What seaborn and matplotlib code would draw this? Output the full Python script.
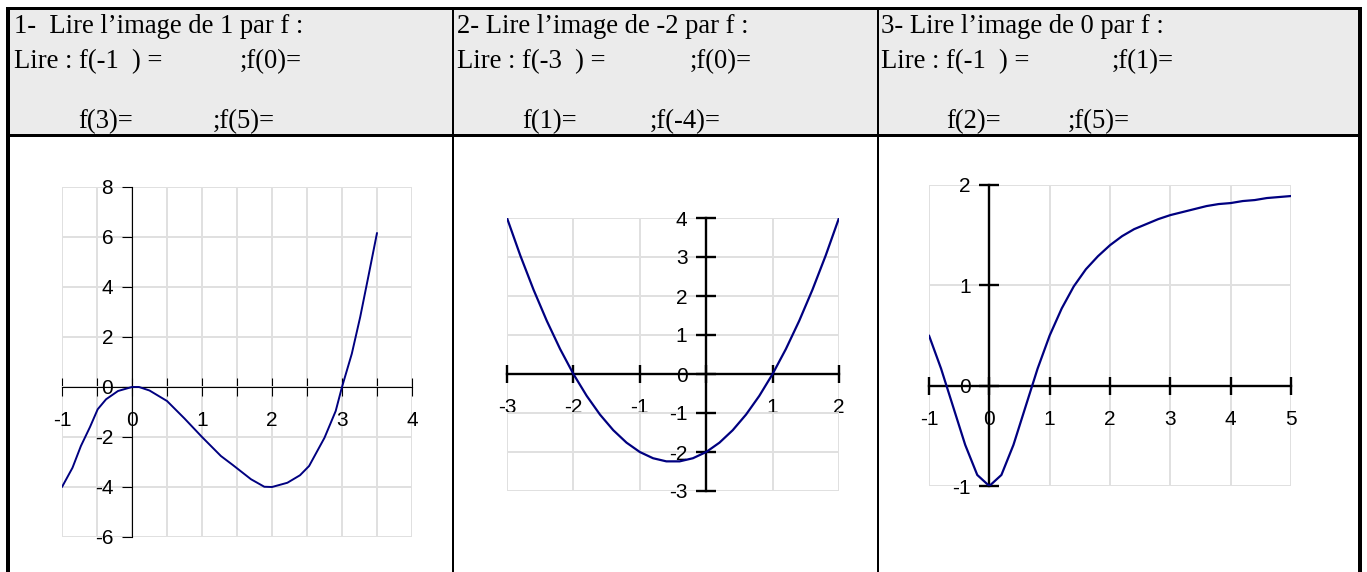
import matplotlib
matplotlib.use("Agg")
import matplotlib.pyplot as plt
import seaborn as sns
import pandas as pd
from matplotlib.patches import Rectangle
from matplotlib.ticker import MultipleLocator, FuncFormatter, NullFormatter

# ---------------------------------------------------------------- data
titles = ["1-  Lire l’image de 1 par f :",
          "2- Lire l’image de -2 par f :",
          "3- Lire l’image de 0 par f :"]
line2_left = ["Lire : f(-1  ) =", "Lire : f(-3  ) =", "Lire : f(-1  ) ="]
line2_right = [";f(0)=", ";f(0)=", ";f(1)="]
line3_left = ["f(3)=", "f(1)=", "f(2)="]
line3_right = [";f(5)=", ";f(-4)=", ";f(5)="]

# exercise 1 : cubic-looking curve
x1 = [-1.0, -0.85, -0.73, -0.6, -0.49, -0.37, -0.2, 0.0, 0.1, 0.25, 0.5, 0.75,
      1.0, 1.27, 1.44, 1.7, 1.89, 2.0, 2.22, 2.4, 2.53, 2.75, 2.91, 3.0,
      3.14, 3.26, 3.38, 3.5]
y1 = [-4.0, -3.23, -2.36, -1.6, -0.89, -0.49, -0.16, 0.0, 0.0, -0.14, -0.56, -1.26,
      -2.0, -2.76, -3.12, -3.69, -3.99, -4.0, -3.83, -3.53, -3.16, -2.03, -0.96, 0.0,
      1.33, 2.8, 4.47, 6.16]

# exercise 2 : parabola
x2 = [-3.0, -2.8, -2.6, -2.4, -2.2, -2.0, -1.8, -1.6, -1.4, -1.2, -1.0, -0.8, -0.6,
      -0.4, -0.2, 0.0, 0.2, 0.4, 0.6, 0.8, 1.0, 1.2, 1.4, 1.6, 1.8, 2.0]
y2 = [4.0, 3.04, 2.16, 1.36, 0.64, 0.0, -0.56, -1.04, -1.44, -1.76, -2.0, -2.16, -2.24,
      -2.24, -2.16, -2.0, -1.76, -1.44, -1.04, -0.56, 0.0, 0.64, 1.36, 2.16, 3.04, 4.0]

# exercise 3 : well-shaped curve with horizontal asymptote
x3 = [-1.0, -0.8, -0.6, -0.4, -0.2, 0.0, 0.2, 0.4, 0.6, 0.8, 1.0, 1.2, 1.4, 1.6, 1.8,
      2.0, 2.2, 2.4, 2.6, 2.8, 3.0, 3.2, 3.4, 3.6, 3.8, 4.0, 4.2, 4.4, 4.6, 4.8, 5.0]
y3 = [0.5, 0.17, -0.21, -0.59, -0.89, -1.0, -0.89, -0.59, -0.21, 0.17, 0.5, 0.77,
      0.99, 1.16, 1.29, 1.4, 1.49, 1.56, 1.61, 1.66, 1.7, 1.73, 1.76, 1.79, 1.81,
      1.82, 1.84, 1.85, 1.87, 1.88, 1.89]

# ---------------------------------------------------------------- style
sns.set_theme(style="white")
plt.rcParams["font.family"] = ["Liberation Sans", "DejaVu Sans"]
plt.rcParams["axes.unicode_minus"] = False

W, H, DPI = 1367, 572, 100
fig = plt.figure(figsize=(W / DPI, H / DPI), dpi=DPI)
fig.patch.set_facecolor("white")

# full-figure canvas in pixel coordinates for the table frame and text
bg = fig.add_axes([0, 0, 1, 1], zorder=0)
bg.set_xlim(0, W)
bg.set_ylim(H, 0)
bg.axis("off")

HEADER_GRAY = "#ebebeb"
bg.add_patch(Rectangle((10, 9), 1348, 125, color=HEADER_GRAY, lw=0))
for (x, y, w, h) in [(6, 7, 1356, 2.5),      # top border
                     (6, 7, 4, 565),         # left border
                     (1358, 7, 4, 565),      # right border
                     (6, 134, 1356, 2.5),    # header separator
                     (452, 7, 2.2, 565),     # column divider
                     (877, 7, 2.2, 565)]:    # column divider
    bg.add_patch(Rectangle((x, y), w, h, color="black", lw=0))

col_x = [14, 457, 881]
col_x2 = [240, 690, 1112]
col_x3a = [78, 522, 946]
col_x3b = [213, 650, 1068]
serif = dict(fontfamily=["Liberation Serif", "DejaVu Serif"], fontsize=19.2,
             va="baseline", ha="left", color="black")
for i in range(3):
    bg.text(col_x[i], 33, titles[i], **serif)
    bg.text(col_x[i], 68, line2_left[i], **serif)
    bg.text(col_x2[i], 68, line2_right[i], **serif)
    bg.text(col_x3a[i], 128, line3_left[i], **serif)
    bg.text(col_x3b[i], 128, line3_right[i], **serif)

CURVE = "#000080"
GRID = "#e0e0e0"
TICK_FS = 15


def label_fmt(skip_zero=False):
    def f(v, pos):
        if skip_zero and abs(v) < 1e-9:
            return ""
        return f"{v:g}"
    return FuncFormatter(f)


def make_chart(box, xs, ys, xlim, ylim, xstep, ystep, xgrid_step,
               axis_lw, y_dir, skip_zero_x, curve_lw):
    x0, x1_, y0, y1_ = box
    ax = fig.add_axes([x0 / W, 1 - y1_ / H, (x1_ - x0) / W, (y1_ - y0) / H], zorder=2)
    ax.set_facecolor("none")
    df = pd.DataFrame({"x": xs, "y": ys})
    sns.lineplot(data=df, x="x", y="y", ax=ax, color=CURVE, linewidth=curve_lw,
                 estimator=None, sort=False, zorder=5)
    ax.set_xlim(*xlim)
    ax.set_ylim(*ylim)
    ax.set_xlabel("")
    ax.set_ylabel("")

    ax.xaxis.set_major_locator(MultipleLocator(xstep))
    ax.yaxis.set_major_locator(MultipleLocator(ystep))
    if xgrid_step < xstep:
        ax.xaxis.set_minor_locator(MultipleLocator(xgrid_step))
        ax.xaxis.set_minor_formatter(NullFormatter())
    ax.xaxis.set_major_formatter(label_fmt(skip_zero_x))
    ax.yaxis.set_major_formatter(label_fmt())

    ax.grid(True, which="both", axis="both", color=GRID, linewidth=1.4)
    for gl in ax.get_xgridlines() + ax.get_ygridlines():
        gl.set_clip_on(False)
    ax.set_axisbelow(True)

    for side in ("top", "right"):
        ax.spines[side].set_visible(False)
    for side in ("left", "bottom"):
        ax.spines[side].set_position(("data", 0))
        ax.spines[side].set_color("black")
        ax.spines[side].set_linewidth(axis_lw)
        ax.spines[side].set_zorder(3)

    ax.tick_params(axis="x", which="both", direction="inout", length=13,
                   width=axis_lw, color="black", bottom=True, pad=11,
                   labelsize=TICK_FS, labelcolor="black")
    if y_dir == "out":
        ax.tick_params(axis="y", direction="out", length=7, width=axis_lw,
                       color="black", left=True, pad=6.5, labelsize=TICK_FS,
                       labelcolor="black")
    else:
        ax.tick_params(axis="y", direction="inout", length=15, width=axis_lw,
                       color="black", left=True, pad=6, labelsize=TICK_FS,
                       labelcolor="black")
    return ax


make_chart((62, 412, 187, 537), x1, y1, (-1, 4), (-6, 8), 1, 2, 0.5,
           axis_lw=0.8, y_dir="out", skip_zero_x=False, curve_lw=1.4)
make_chart((507, 839, 218, 491), x2, y2, (-3, 2), (-3, 4), 1, 1, 1,
           axis_lw=1.7, y_dir="inout", skip_zero_x=True, curve_lw=1.6)
make_chart((929, 1291, 185, 486), x3, y3, (-1, 5), (-1, 2), 1, 1, 1,
           axis_lw=1.7, y_dir="inout", skip_zero_x=False, curve_lw=1.6)

fig.savefig("out.png", dpi=DPI, facecolor="white")
